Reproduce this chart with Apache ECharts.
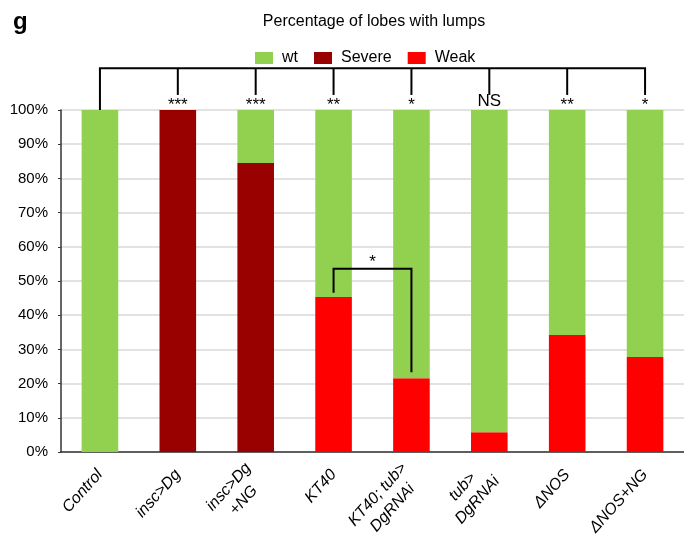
<!DOCTYPE html>
<html>
<head>
<meta charset="utf-8">
<script src="https://cdn.jsdelivr.net/npm/echarts@6/dist/echarts.min.js"></script>
<style>
  html, body { margin: 0; padding: 0; background: #fff; }
  #chart { width: 684px; height: 538px; }
</style>
</head>
<body>
<div id="chart"></div>
<script>
const categories = ['Control', 'insc>Dg', 'insc>Dg\n+NG', 'KT40', 'KT40; tub>\nDgRNAi', 'tub>\nDgRNAi', 'ΔNOS', 'ΔNOS+NG']
const severe = [0, 100, 84.5, 0, 0, 0, 0, 0]
const weak = [0, 0, 0, 45.3, 21.6, 5.8, 34.2, 27.8]
const wt = [100, 0, 15.5, 54.7, 78.4, 94.2, 65.8, 72.2]
const yTicks = [0, 10, 20, 30, 40, 50, 60, 70, 80, 90, 100]
// significance vs control, one per category
const sigLabels = ['', '***', '***', '**', '*', 'NS', '**', '*']
// extra comparison: [from, to, label]
const pairs = [[3, 4, '*']]

const font = 'Liberation Sans, Arial, Helvetica, sans-serif'
const chart = echarts.init(document.getElementById('chart'))

const BRACKET_TOP = 112.2
const LEG_END = 104.4

function renderSig (params, api) {
    const i = params.dataIndex
    const top = api.coord([i, BRACKET_TOP])
    const end = api.coord([i, i === 0 ? 100 : LEG_END])
    const lineStyle = { stroke: '#000', lineWidth: 2 }
    const children = [{
        type: 'line',
        shape: { x1: top[0], y1: top[1], x2: end[0], y2: end[1] },
        style: lineStyle
    }]
    if (i === 0) {
        const last = api.coord([categories.length - 1, BRACKET_TOP])
        children.push({
            type: 'line',
            shape: { x1: top[0] - 1, y1: top[1], x2: last[0] + 1, y2: last[1] },
            style: lineStyle
        })
    }
    const lab = sigLabels[i]
    if (lab) {
        const isNS = lab === 'NS'
        const p = api.coord([i, isNS ? 102.6 : 101.5])
        children.push({
            type: 'text',
            x: p[0], y: p[1],
            style: {
                text: lab, fill: '#000', align: 'center', verticalAlign: 'middle',
                font: '17px ' + font
            }
        })
    }
    return { type: 'group', children }
}

function renderPair (params, api) {
    const [a, b, lab] = pairs[params.dataIndex]
    const top = 53.6
    const pa = api.coord([a, top])
    const pb = api.coord([b, top])
    const ea = api.coord([a, weak[a] + 1.3])
    const eb = api.coord([b, weak[b] + 1.7])
    const sy = api.coord([a, 55.5])[1]
    return {
        type: 'group',
        children: [{
            type: 'polyline',
            shape: { points: [ea, pa, pb, eb] },
            style: { stroke: '#000', lineWidth: 2, fill: null }
        }, {
            type: 'text', x: (pa[0] + pb[0]) / 2, y: sy,
            style: { text: lab, fill: '#000', align: 'center', verticalAlign: 'middle', font: '17px ' + font }
        }]
    }
}

const labelRich = { c: { align: 'center', fontSize: 16, fontStyle: 'italic', color: '#000', lineHeight: 20, fontFamily: font } }

chart.setOption({
    animation: false,
    textStyle: { fontFamily: font },
    title: [{
        text: 'Percentage of lobes with lumps',
        left: 369, top: 9, textAlign: 'center',
        textStyle: { fontSize: 16, fontWeight: 'normal', color: '#000' }
    }, {
        text: 'g', left: 8, top: 5,
        textStyle: { fontSize: 24, fontWeight: 'bold', color: '#000' }
    }],
    legend: {
        data: ['wt', 'Severe', 'Weak'],
        left: 250, top: 45,
        itemWidth: 18, itemHeight: 12, itemGap: 16,
        icon: 'rect',
        textStyle: { fontSize: 16, color: '#000', padding: [0, 0, 0, 4] }
    },
    grid: { left: 61, right: 0, top: 110, bottom: 86, containLabel: false, outerBoundsMode: 'none' },
    xAxis: {
        type: 'category',
        data: categories,
        axisLine: { lineStyle: { color: '#333', width: 1.5 } },
        axisTick: { show: false },
        axisLabel: {
            interval: 0, rotate: 48, margin: 20,
            formatter: v => v.split('\n').map(s => '{c|' + s + '}').join('\n'),
            rich: labelRich
        }
    },
    yAxis: {
        type: 'value', min: 0, max: 100, interval: 10,
        axisLine: { show: true, lineStyle: { color: '#333', width: 1.5 } },
        axisTick: { show: true, length: 3, lineStyle: { color: '#333' } },
        axisLabel: { fontSize: 15, color: '#000', margin: 13, formatter: v => yTicks.includes(v) ? v + '%' : '' },
        splitLine: { lineStyle: { color: '#d9d9d9', width: 1.5 } }
    },
    series: [{
        name: 'Severe', type: 'bar', stack: 'all', data: severe, barWidth: '47%',
        itemStyle: { color: '#990000' }
    }, {
        name: 'Weak', type: 'bar', stack: 'all', data: weak,
        itemStyle: { color: '#ff0000' }
    }, {
        name: 'wt', type: 'bar', stack: 'all', data: wt,
        itemStyle: { color: '#92d050' }
    }, {
        type: 'custom', renderItem: renderSig, silent: true, z: 10,
        data: categories.map((c, i) => [i, 100])
    }, {
        type: 'custom', renderItem: renderPair, silent: true, z: 10,
        data: pairs.map(p => [p[0], 50])
    }]
})
</script>
</body>
</html>
